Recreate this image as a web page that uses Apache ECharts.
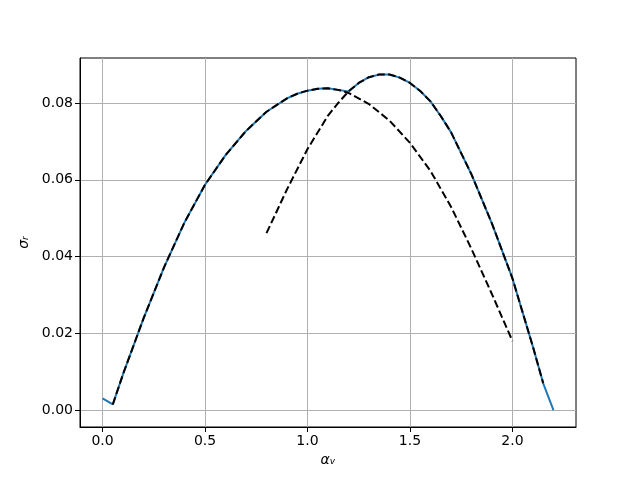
<!DOCTYPE html>
<html>
<head>
<meta charset="utf-8">
<script src="https://cdn.jsdelivr.net/npm/echarts@6/dist/echarts.min.js"></script>
<style>
  html, body { margin: 0; padding: 0; background: #fff; }
  #chart { width: 640px; height: 480px; }
</style>
</head>
<body>
<div id="chart"></div>
<script>
// first dashed curve
const x1 = [0.05, 0.1, 0.2, 0.3, 0.4, 0.5, 0.6, 0.7, 0.8, 0.9, 0.95, 1.0, 1.05, 1.1, 1.15, 1.2, 1.3, 1.4, 1.5, 1.6, 1.7, 1.8, 1.9, 2.0];
const y1 = [0.0015, 0.0094, 0.0239, 0.0372, 0.0489, 0.0587, 0.0664, 0.0727, 0.0777, 0.0812, 0.0824, 0.0832, 0.0837, 0.0838, 0.0834, 0.0826, 0.0797, 0.0754, 0.0696, 0.0623, 0.0530, 0.0420, 0.0302, 0.0180];

// second dashed curve
const x2 = [0.8, 0.9, 1.0, 1.1, 1.15, 1.2, 1.25, 1.3, 1.35, 1.4, 1.45, 1.5, 1.55, 1.6, 1.65, 1.7, 1.8, 1.9, 2.0, 2.1, 2.15];
const y2 = [0.0461, 0.0575, 0.0680, 0.0767, 0.0800, 0.0830, 0.0852, 0.0867, 0.0874, 0.0874, 0.0866, 0.0852, 0.0831, 0.0804, 0.0766, 0.0724, 0.0614, 0.0486, 0.0343, 0.0165, 0.0070];

// solid blue line (upper envelope)
const xb = [0, 0.05, 0.1, 0.2, 0.3, 0.4, 0.5, 0.6, 0.7, 0.8, 0.9, 0.95, 1.0, 1.05, 1.1, 1.15, 1.2, 1.25, 1.3, 1.35, 1.4, 1.45, 1.5, 1.55, 1.6, 1.65, 1.7, 1.8, 1.9, 2.0, 2.1, 2.15, 2.2];
const yb = [0.0031, 0.0015, 0.0094, 0.0239, 0.0372, 0.0489, 0.0587, 0.0664, 0.0727, 0.0777, 0.0812, 0.0824, 0.0832, 0.0837, 0.0838, 0.0834, 0.0830, 0.0852, 0.0867, 0.0874, 0.0874, 0.0866, 0.0852, 0.0831, 0.0804, 0.0766, 0.0724, 0.0614, 0.0486, 0.0343, 0.0165, 0.0070, 0.0];

const xTicks = [0, 0.5, 1.0, 1.5, 2.0];
const yTicks = [0, 0.02, 0.04, 0.06, 0.08];

const pairs = (xs, ys) => xs.map((x, i) => [x, ys[i]]);

const chart = echarts.init(document.getElementById("chart"));
const font = "DejaVu Sans";

let xAxis = {
  type: "value",
  min: -0.11,
  max: 2.31,
  name: "α\u1D65",
  nameLocation: "middle",
  nameGap: 25,
  nameTextStyle: { fontFamily: font, fontSize: 14, fontStyle: "italic", color: "#000" },
  axisLine: { show: true, onZero: false, lineStyle: { color: "#000", width: 1 } },
  axisTick: { show: true, length: 5, customValues: xTicks, lineStyle: { color: "#000" } },
  axisLabel: {
    customValues: xTicks,
    margin: 7,
    fontFamily: font,
    fontSize: 14,
    color: "#000",
    formatter: (v) => v.toFixed(1),
  },
  splitLine: { show: true, lineStyle: { color: "#b0b0b0", width: 1 } },
};

let yAxis = {
  type: "value",
  min: -0.00437,
  max: 0.0917,
  name: "σ\u1D63",
  nameLocation: "middle",
  nameGap: 48,
  nameRotate: 90,
  nameTextStyle: { fontFamily: font, fontSize: 14, fontStyle: "italic", color: "#000" },
  axisLine: { show: true, onZero: false, lineStyle: { color: "#000", width: 1 } },
  axisTick: { show: true, length: 5, customValues: yTicks, lineStyle: { color: "#000" } },
  axisLabel: {
    customValues: yTicks,
    margin: 7,
    fontFamily: font,
    fontSize: 14,
    color: "#000",
    formatter: (v) => v.toFixed(2),
  },
  splitLine: { show: true, lineStyle: { color: "#b0b0b0", width: 1 } },
};

let series = [
  {
    type: "line",
    data: pairs(xb, yb),
    symbol: "none",
    lineStyle: { color: "#1f77b4", width: 2 },
    z: 2,
  },
  {
    type: "line",
    data: pairs(x1, y1),
    symbol: "none",
    lineStyle: { color: "#000", width: 2, type: [7.7, 3.3] },
    z: 3,
  },
  {
    type: "line",
    data: pairs(x2, y2),
    symbol: "none",
    lineStyle: { color: "#000", width: 2, type: [7.7, 3.3] },
    z: 4,
  },
];

chart.setOption({
  animation: false,
  backgroundColor: "#fff",
  grid: {
    left: 80,
    right: 64,
    top: 58,
    bottom: 53,
    show: true,
    borderColor: "#000",
    borderWidth: 1,
  },
  xAxis,
  yAxis,
  series,
});
</script>
</body>
</html>
